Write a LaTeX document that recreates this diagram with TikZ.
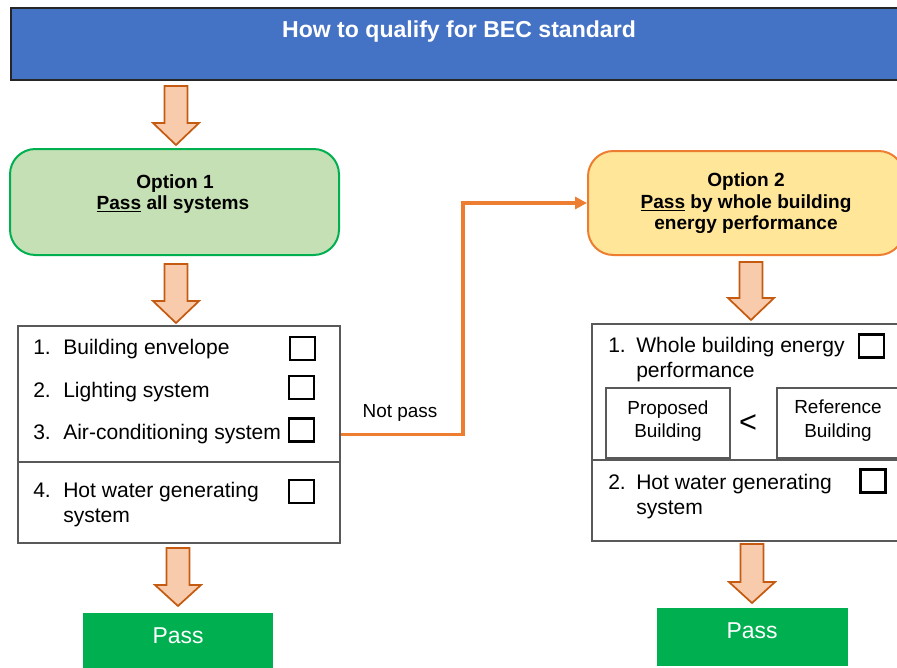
\documentclass[tikz,border=0pt]{standalone}
\usepackage{fontspec}
\setmainfont{Liberation Sans}
\usetikzlibrary{fit,arrows.meta}
\definecolor{bannerblue}{HTML}{4472C4}
\definecolor{optgreen}{HTML}{C5E0B4}
\definecolor{greenline}{HTML}{00B050}
\definecolor{optyellow}{HTML}{FFE699}
\definecolor{orangeline}{HTML}{ED7D31}
\definecolor{arrowfill}{HTML}{F8CBAD}
\definecolor{arrowline}{HTML}{C55A11}
\definecolor{passgreen}{HTML}{00B050}
\definecolor{listline}{HTML}{595959}
\newcommand\blockarrow[4]{%
  \draw[barrow] (#1-11.5,#2) -- (#1+11.5,#2) -- (#1+11.5,#3) -- (#1+23,#3)
    -- (#1,#4) -- (#1-23,#3) -- (#1-11.5,#3) -- cycle;}
\begin{document}
\begin{tikzpicture}[x=0.75pt,y=-0.75pt,
  banner/.style={fill=bannerblue,draw=black!85,line width=1pt,inner sep=0pt},
  optA/.style={fill=optgreen,draw=greenline,line width=1.5pt,rounded corners=19pt,inner sep=0pt},
  optB/.style={fill=optyellow,draw=orangeline,line width=1.5pt,rounded corners=19pt,inner sep=0pt},
  listbox/.style={draw=listline,line width=0.9pt,inner sep=0pt},
  chk/.style={draw=black,line width=1.7pt,minimum width=18.75pt,minimum height=17.25pt,inner sep=0pt},
  passbox/.style={fill=passgreen,inner sep=0pt},
  barrow/.style={fill=arrowfill,draw=arrowline,line width=1.3pt,line join=miter},
  conn/.style={draw=orangeline,line width=2.5pt,-{Triangle[length=9pt,width=9pt]}},
  titletext/.style={anchor=base,inner sep=0pt,text=white,font=\bfseries\fontsize{17.3}{20}\selectfont},
  opttext/.style={anchor=base,inner sep=0pt,font=\bfseries\fontsize{14.3}{17}\selectfont},
  itemtext/.style={anchor=base west,inner sep=0pt,font=\fontsize{15.8}{19}\selectfont},
  smalltext/.style={anchor=base,inner sep=0pt,font=\fontsize{14.2}{17}\selectfont},
  passtext/.style={anchor=base,inner sep=0pt,text=white,font=\fontsize{17.2}{20}\selectfont},
  cmp/.style={draw=listline,line width=0.9pt,inner sep=0pt}
]
\useasboundingbox (0,0) rectangle (897,668);

% banner
\node[banner,fit={(11,8) (907,80)}] (banner) {};
\node[titletext] (title) at (459,37) {How to qualify for BEC standard};

% option boxes
\node[optA,fit={(10,149) (339,255)}] (opt1) {};
\node[opttext] (o1a) at (175,188) {Option 1};
\node[opttext] (o1b) at (173,209) {\underline{Pass} all systems};

\node[optB,fit={(588,151) (904,255)}] (opt2) {};
\node[opttext] (o2a) at (746,186) {Option 2};
\node[opttext] (o2b) at (746,208) {\underline{Pass} by whole building};
\node[opttext] (o2c) at (746,229) {energy performance};

% list box 1
\node[listbox,fit={(18,326) (340,543)}] (list1) {};
\draw[listline,line width=0.9pt] (list1.west |- 0,462) -- (list1.east |- 0,462);
\node[itemtext] (n1) at (33,354) {1.};
\node[itemtext] (t1) at (63,354) {Building envelope};
\node[itemtext] (n2) at (33,397) {2.};
\node[itemtext] (t2) at (63,397) {Lighting system};
\node[itemtext] (n3) at (33,439) {3.};
\node[itemtext] (t3) at (63,439) {Air-conditioning system};
\node[itemtext] (n4) at (33,497) {4.};
\node[itemtext] (t4) at (63,497) {Hot water generating};
\node[itemtext] (t4b) at (63,522) {system};
\node[chk] (c1) at (302.5,348.5) {};
\node[chk] (c2) at (301.5,387.5) {};
\node[chk] (c3) at (301.5,430) {};
\node[chk] (c4) at (301.5,491.5) {};

% list box 2
\node[listbox,fit={(592,324) (907,541)}] (list2) {};
\draw[listline,line width=0.9pt] (list2.west |- 0,460) -- (list2.east |- 0,460);
\node[itemtext] (m1) at (608,352) {1.};
\node[itemtext] (s1) at (636,352) {Whole building energy};
\node[itemtext] (s1b) at (636,377) {performance};
\node[cmp,fit={(606,388) (730,458)}] (prop) {};
\node[smalltext] (p1) at (668,414) {Proposed};
\node[smalltext] (p2) at (668,437) {Building};
\node[cmp,fit={(777,388) (901,458)}] (refb) {};
\node[smalltext] (r1) at (838,413) {Reference};
\node[smalltext] (r2) at (838,437) {Building};
\node[anchor=base,inner sep=0pt,font=\fontsize{23}{26}\selectfont] (lt) at (748,432) {<};
\node[itemtext] (m2) at (608,489) {2.};
\node[itemtext] (s2) at (636,489) {Hot water generating};
\node[itemtext] (s2b) at (636,514) {system};
\node[chk] (d1) at (871.5,346) {};
\node[chk] (d2) at (873,481) {};

% pass boxes
\node[passbox,fit={(83,613) (273,672)}] (pass1) {};
\node[passtext] (pt1) at (178,643) {Pass};
\node[passbox,fit={(657,608) (848,666)}] (pass2) {};
\node[passtext] (pt2) at (752,638) {Pass};

% block arrows
\blockarrow{176}{86}{123}{145}
\blockarrow{176}{264}{301}{323}
\blockarrow{178}{548}{585}{606}
\blockarrow{751}{262}{298}{320}
\blockarrow{752}{544}{582}{603}

% not pass connector
\coordinate (bend) at (463,0);
\draw[conn] (list1.east) -| (bend |- opt2.west) -- (opt2.west);
\node[smalltext] (np) at (400,417) {Not pass};
\end{tikzpicture}
\end{document}
